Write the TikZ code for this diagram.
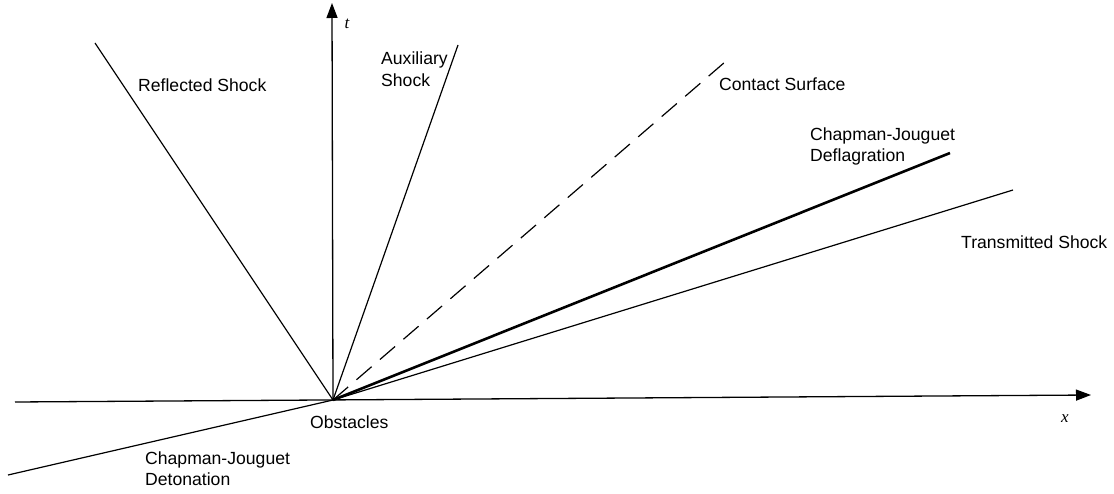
\documentclass[tikz,border=0pt]{standalone}
\usepackage{fontspec}
\setmainfont{Liberation Sans}
\newfontfamily\serifit{Liberation Serif}
\usetikzlibrary{arrows.meta}
\begin{document}
\begin{tikzpicture}[x=1pt,y=-1pt,
  thinline/.style={line width=1.2pt},
  thickline/.style={line width=2.6pt},
  axis/.style={line width=1.3pt,-{Triangle[length=15pt,width=11pt]}},
  lbl/.style={font=\fontsize{17.6}{21}\selectfont, inner sep=0pt, anchor=west, align=left},
  varlbl/.style={font=\fontsize{17}{20}\serifit\itshape, inner sep=0pt}]
\useasboundingbox (0,0) rectangle (1114,494);
\coordinate (O) at (333,400);
\coordinate (xl) at (15,402);
\coordinate (xr) at (1091,395);
\coordinate (tt) at (332,3);
\coordinate (rs) at (95,43);
\coordinate (as) at (458,45);
\coordinate (cs) at (725,62);
\coordinate (df) at (950,153);
\coordinate (ts) at (1013,190);
\coordinate (dt) at (8,475);
\draw[axis] (xl) -- (xr);
\draw[axis] (O) -- (tt);
\draw[thinline] (O) -- (rs);
\draw[thinline] (O) -- (as);
\draw[thinline, dash pattern=on 20pt off 11pt] (O) -- (cs);
\draw[thickline] (O) -- (df);
\draw[thinline] (O) -- (ts);
\draw[thinline] (O) -- (dt);
\node[lbl] (lrs) at (138,85) {Reflected Shock};
\node[lbl, font=\fontsize{17.6}{22}\selectfont] (las) at (381,69) {Auxiliary\\Shock};
\node[lbl] (lcs) at (719,84) {Contact Surface};
\node[lbl] (ldf) at (810,146) {Chapman-Jouguet\\Deflagration};
\node[lbl] (lts) at (961,242) {Transmitted Shock};
\node[lbl] (lob) at (310,422) {Obstacles};
\node[lbl] (ldt) at (145,469) {Chapman-Jouguet\\Detonation};
\node[varlbl] (lx) at (1065,419) {x};
\node[varlbl] (lt) at (347,24) {t};
\end{tikzpicture}
\end{document}
